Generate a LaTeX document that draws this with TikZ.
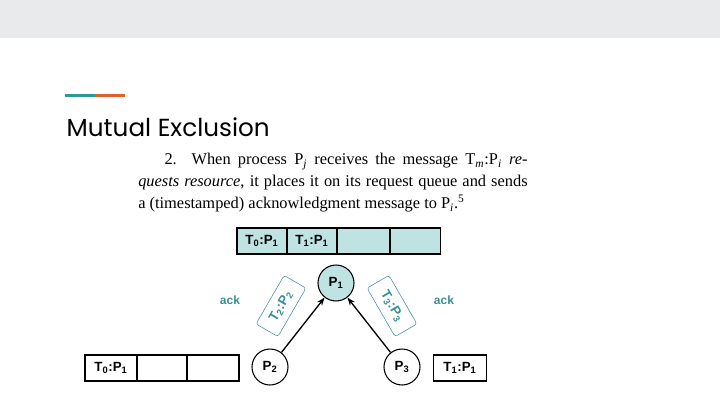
\documentclass[tikz,border=0pt]{standalone}
\usepackage{fontspec}
\setmainfont{Liberation Serif}
\newfontfamily\titlefont{Poppins}
\newfontfamily\arialfont{Liberation Sans}
\definecolor{qfill}{HTML}{BFE2E2}
\definecolor{teal2}{HTML}{3A9096}
\definecolor{topgray}{HTML}{E8EAEC}
\definecolor{accA}{HTML}{2A9A98}
\definecolor{accB}{HTML}{E0622A}
\newcommand{\sbs}[1]{\textsubscript{#1}}
\tikzset{cell/.style={draw,line width=0.8pt,minimum height=19.5pt,inner sep=0pt,font=\arialfont\bfseries\normalsize},
proc/.style={circle,draw,line width=0.8pt,minimum size=27pt,inner sep=0pt,font=\arialfont\bfseries\normalsize},
msg/.style={draw=teal2,rounded corners=2pt,text=teal2,font=\arialfont\bfseries\normalsize,minimum width=42pt,minimum height=19pt,inner sep=1pt},
ackl/.style={text=teal2,font=\arialfont\bfseries\small},
arr/.style={-{Stealth[length=6pt]},line width=1pt}}
\usetikzlibrary{arrows.meta}
\begin{document}
\begin{tikzpicture}[x=0.75pt,y=-0.75pt]
\useasboundingbox (0,0) rectangle (720,405);
\fill[topgray] (0,0) rectangle (720,38);
\fill[accA] (65,93.5) rectangle (95,97);
\fill[accB] (95,93.5) rectangle (125,97);
\node[anchor=west,font=\titlefont\fontsize{18.5}{20}\selectfont] (title) at (62,127) {Mutual Exclusion};
\node[anchor=north west,text width=292pt,align=justify,inner sep=0pt,font=\fontsize{12.3}{16.5}\selectfont] (para) at (138,153)
{\hspace*{1.6em}2. When process P\sbs{\textit{j}} receives the message T\sbs{\textit{m}}:P\sbs{\textit{i}} \textit{re-\linebreak quests resource}, it places it on its request queue and sends\linebreak a (timestamped) acknowledgment message to P\sbs{\textit{i}}.\textsuperscript{5}};
% top queue
\node[cell,fill=qfill,minimum width=37.5pt] (q1) at (262,241) {T\sbs{0}:P\sbs{1}};
\node[cell,fill=qfill,minimum width=37.5pt] (q2) at (312,241) {T\sbs{1}:P\sbs{1}};
\node[cell,fill=qfill,minimum width=39.5pt] (q3) at (363.5,241) {};
\node[cell,fill=qfill,minimum width=38pt] (q4) at (415.5,241) {};
% left queue
\node[cell,minimum width=39pt] (l1) at (111,368) {T\sbs{0}:P\sbs{1}};
\node[cell,minimum width=37.5pt] (l2) at (162,368) {};
\node[cell,minimum width=39pt] (l3) at (213,368) {};
% right queue
\node[cell,minimum width=40pt] (r1) at (460,368) {T\sbs{1}:P\sbs{1}};
% processes
\node[proc,fill=qfill] (p1) at (336,283) {P\sbs{1}};
\node[proc] (p2) at (270,367) {P\sbs{2}};
\node[proc] (p3) at (402,367) {P\sbs{3}};
\draw[arr] (p2) -- (p1);
\draw[arr] (p3) -- (p1);
\node[msg,rotate=60] (m2) at (281,306) {T\sbs{2}:P\sbs{2}};
\node[msg,rotate=-60] (m3) at (392,306) {T\sbs{3}:P\sbs{3}};
\node[ackl] (a1) at (230,300) {ack};
\node[ackl] (a2) at (444,300) {ack};
\end{tikzpicture}
\end{document}
